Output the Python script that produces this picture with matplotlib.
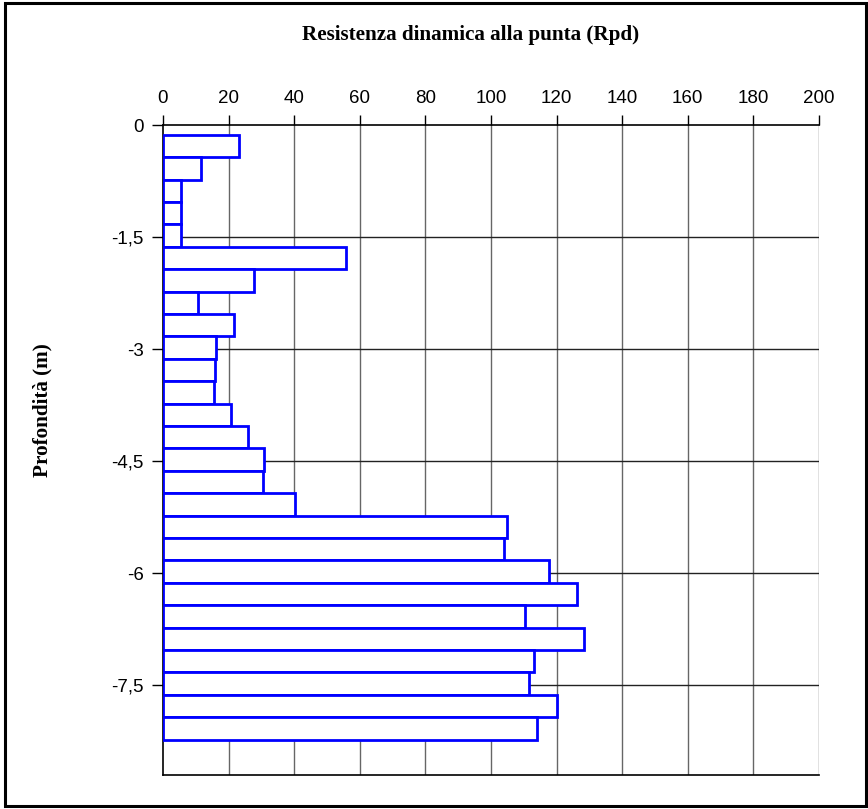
import matplotlib.pyplot as plt
import matplotlib.patches as mpatches
import numpy as np

# prova penetrometrica: resistenza dinamica alla punta
rpd = [23.2, 11.5, 5.6, 5.6, 5.6, 55.9, 27.6, 10.8, 21.6, 16.2, 16.0, 15.5, 20.7, 25.8,
       30.8, 30.6, 40.2, 104.9, 103.9, 117.6, 126.2, 110.4, 128.4, 113.0, 111.6, 120.0, 114.0]
# profondita' di inizio di ogni tratto (m)
depth_from = [0.13, 0.43, 0.73, 1.03, 1.33, 1.63, 1.93, 2.23, 2.53, 2.83, 3.13, 3.43, 3.73, 4.03,
              4.33, 4.63, 4.93, 5.23, 5.53, 5.83, 6.13, 6.43, 6.73, 7.03, 7.33, 7.63, 7.93]
step = 0.3

x_ticks = [0, 20, 40, 60, 80, 100, 120, 140, 160, 180, 200]
y_ticks = [0, -1.5, -3, -4.5, -6, -7.5]
y_labels = ['0', '-1,5', '-3', '-4,5', '-6', '-7,5']

title = 'Resistenza dinamica alla punta (Rpd)'
ylab = 'Profondità (m)'

W, H = 868, 809
fig = plt.figure(figsize=(W / 100, H / 100), dpi=100)

# cornice esterna
fig.patches.append(mpatches.Rectangle((5 / W, 3 / H), 861 / W, 803 / H, transform=fig.transFigure,
                                      fill=False, edgecolor='black', linewidth=2.2))

ax = fig.add_axes([163 / W, 1 - 775 / H, 656 / W, 650 / H])

bottoms = [-(d + step) for d in depth_from]
ax.barh(bottoms, rpd, height=step, align='edge', color='white', edgecolor='#0000ff',
        linewidth=2.0, zorder=3)

ax.set_xlim(0, 200)
ax.set_ylim(-8.705, 0)

ax.xaxis.tick_top()
ax.set_xticks(x_ticks)
ax.set_xticklabels([str(v) for v in x_ticks])
ax.set_yticks(y_ticks)
ax.set_yticklabels(y_labels)
ax.tick_params(axis='x', direction='out', length=7, width=1, pad=6, labelsize=13.5,
               top=True, bottom=False)
ax.tick_params(axis='y', direction='out', length=8, width=1, pad=6, labelsize=13.5)
for lbl in ax.get_xticklabels() + ax.get_yticklabels():
    lbl.set_fontfamily('Liberation Sans')

# griglia
for v in x_ticks[1:]:
    ax.axvline(v, color='#666666', linewidth=1, zorder=1)
for v in y_ticks[1:]:
    ax.axhline(v, color='#222222', linewidth=1, zorder=1)

ax.spines['right'].set_visible(False)
for s in ['top', 'left', 'bottom']:
    ax.spines[s].set_linewidth(1.2)
    ax.spines[s].set_color('black')

fig.text(471 / W, 1 - 35 / H, title, ha='center', va='center', fontsize=15.2,
         fontweight='bold', fontfamily='Liberation Serif')
fig.text(42 / W, 1 - 410 / H, ylab, ha='center', va='center', rotation=90, fontsize=15.2,
         fontweight='bold', fontfamily='Liberation Serif')

plt.savefig('out.png', dpi=100)
